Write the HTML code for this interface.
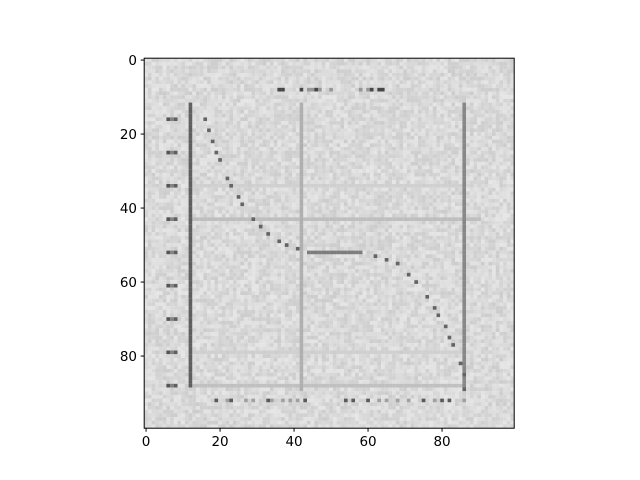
<!DOCTYPE html>
<html><head><meta charset="utf-8"><style>
body{margin:0;background:#fff;}
svg{display:block;font-family:"DejaVu Sans","Liberation Sans",sans-serif;}
</style></head><body>
<svg id="chart" width="640" height="480" viewBox="0 0 640 480">
<g id="img"></g>
<rect x="144.2" y="58.2" width="370" height="370" fill="none" stroke="#000" stroke-width="1"/>
<g id="ticks"></g>
</svg>
<script>
const xTicks=[0,20,40,60,80];
const yTicks=[0,20,40,60,80];
const curveX=[16,17,18,19,20,22,23,25,26,29,31,33,36,38,41,62,65,68,71,73,76,78,79,81,82,83,85,86,86];
const curveY=[16,19,22,25,27,32,34,37,39,43,45,47,49,50,51,53,54,55,58,60,64,67,69,72,75,77,82,85,89];
const flatX=[44,58];const flatY=52;
const vLines=[[12,12,88,95],[86,12,88,135],[42,12,89,175]];
const hLines=[[43,12,90,190],[88,12,86,192],[34,12,86,208],[79,12,86,208]];
const leftMarks=[16,25,34,43,52,61,70,79,88];
const NS='http://www.w3.org/2000/svg';
const x0=144.2,y0=58.2,s=3.7;
const X=c=>x0+(c+0.5)*s, Y=r=>y0+(r+0.5)*s;
const grid=[];
function h(i,j){let n=(i*374761393+j*668265263)^0x5bd1e995;n=(n^(n>>>13))*1274126177;n=n^(n>>>16);return ((n>>>0)%1000)/1000;}
for(let r=0;r<100;r++){grid.push([]);for(let c=0;c<100;c++)grid[r].push(217+Math.round((h(r,c)-0.5)*26));}
function set(r,c,v){if(r>=0&&r<100&&c>=0&&c<100)grid[r][c]=Math.min(grid[r][c],v);}
vLines.forEach(([c,a,b,v])=>{for(let r=a;r<=b;r++)set(r,c,v);});
hLines.forEach(([r,a,b,v])=>{for(let c=a;c<=b;c++)set(r,c,v);});
for(let i=0;i<curveX.length;i++)set(curveY[i],curveX[i],100);
for(let c=flatX[0];c<=flatX[1];c++)set(flatY,c,125);
leftMarks.forEach(r=>{set(r,6,85);set(r,7,130);set(r,8,95);});
for(let c=36;c<=65;c+=1)if(h(c,7)>0.45)set(8,c,h(c,3)>0.6?70:150);
for(let c=13;c<=86;c++)if(h(c,93)>0.6)set(92,c,h(c,5)>0.6?90:160);
const g=document.getElementById('img');
let html='';
for(let r=0;r<100;r++)for(let c=0;c<100;c++){const v=grid[r][c];html+=`<rect x="${(x0+c*s).toFixed(1)}" y="${(y0+r*s).toFixed(1)}" width="3.8" height="3.8" fill="rgb(${v},${v},${v})"/>`;}
g.innerHTML=html;
const t=document.getElementById('ticks');
xTicks.forEach(v=>{
 const l=document.createElementNS(NS,'line');
 
 
 l.setAttribute('x1',X(v));l.setAttribute('x2',X(v));l.setAttribute('y1',428.2);l.setAttribute('y2',431.7);l.setAttribute('stroke','#000');t.appendChild(l);
 const tx=document.createElementNS(NS,'text');
 
 
 tx.setAttribute('x',X(v));tx.setAttribute('y',446);tx.setAttribute('text-anchor','middle');tx.setAttribute('font-size','13.5');tx.textContent=v;t.appendChild(tx);
});
yTicks.forEach(v=>{
 const l=document.createElementNS(NS,'line');
 
 
 l.setAttribute('x1',140.7);l.setAttribute('x2',144.2);l.setAttribute('y1',Y(v));l.setAttribute('y2',Y(v));l.setAttribute('stroke','#000');t.appendChild(l);
 const tx=document.createElementNS(NS,'text');
 
 
 tx.setAttribute('x',137);tx.setAttribute('y',Y(v)+5);tx.setAttribute('text-anchor','end');tx.setAttribute('font-size','13.5');tx.textContent=v;t.appendChild(tx);
});
</script>
</body></html>
